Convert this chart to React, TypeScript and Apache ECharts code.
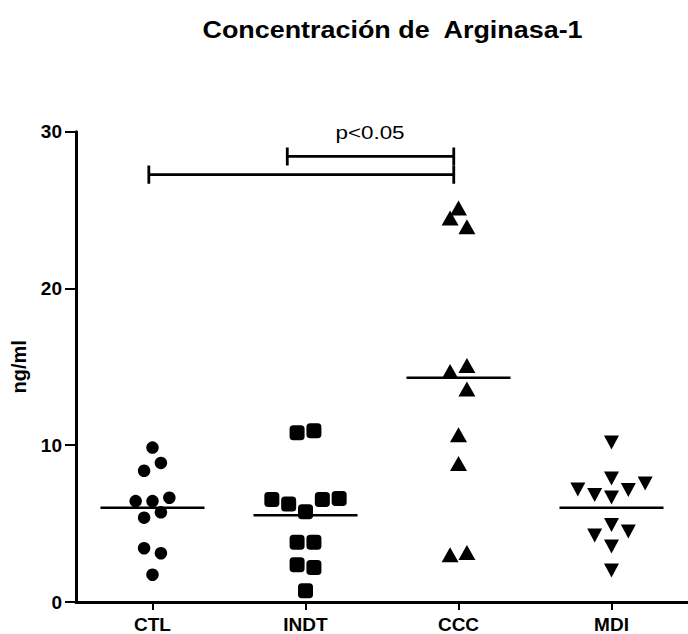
import React, { useEffect, useRef } from "react";
import * as echarts from "echarts";

const categories = ["CTL", "INDT", "CCC", "MDI"];
const yTicks = [0, 10, 20, 30];
const titleText = "Concentración de  Arginasa-1";
const yAxisName = "ng/ml";
const pLabel = "p<0.05";

const ctlValues = [9.85, 8.87, 8.37, 6.44, 6.44, 6.65, 5.72, 5.38, 3.43, 3.11, 1.74];
const ctlOffsets = [0, 0.055, -0.055, -0.11, 0, 0.11, 0.055, -0.055, -0.055, 0.055, 0];
const indtValues = [10.8, 10.93, 6.54, 6.25, 5.76, 6.54, 6.61, 3.81, 3.81, 2.37, 2.2, 0.72];
const indtOffsets = [-0.055, 0.055, -0.22, -0.11, 0, 0.11, 0.22, -0.055, 0.055, -0.055, 0.055, 0];
const cccValues = [25.14, 24.5, 23.93, 14.7, 15.08, 13.58, 10.67, 8.83, 3.01, 3.16];
const cccOffsets = [0, -0.055, 0.055, -0.055, 0.055, 0.055, 0, 0, -0.055, 0.055];
const mdiValues = [10.17, 7.88, 7.18, 6.82, 6.67, 7.14, 7.56, 4.91, 4.49, 4.24, 3.54, 2.01];
const mdiOffsets = [0, 0, -0.22, -0.11, 0, 0.11, 0.22, 0, 0.11, -0.11, 0, 0];
const meanValues = [6.02, 5.53, 14.31, 6.02];

// brackets: [xStart, xEnd, y]
const bracketLong = [-0.024, 1.969, 27.26];
const bracketShort = [0.881, 1.969, 28.42];
const bracketTickHalf = 0.58;

const FONT = "'Liberation Sans', Arial, Helvetica, sans-serif";

function bracketData(b: number[]) {
  const [x1, x2, y] = b;
  return [
    [x1, y + bracketTickHalf],
    [x1, y - bracketTickHalf],
    [x1, y],
    [x2, y],
    [x2, y + bracketTickHalf],
    [x2, y - bracketTickHalf],
  ];
}

export default function App() {
  const ref = useRef<HTMLDivElement>(null);
  useEffect(() => {
    if (!ref.current) return;
    const chart = echarts.init(ref.current, null, { renderer: "svg" });
    const groups = [
      { name: categories[0], values: ctlValues, offsets: ctlOffsets, symbol: "circle", size: 12.5, rotate: 0 },
      { name: categories[1], values: indtValues, offsets: indtOffsets, symbol: "roundRect", size: 15, rotate: 0 },
      { name: categories[2], values: cccValues, offsets: cccOffsets, symbol: "triangle", size: [17, 15], rotate: 0 },
      { name: categories[3], values: mdiValues, offsets: mdiOffsets, symbol: "triangle", size: [15, 14], rotate: 180 },
    ];
    const series: any[] = [];
    groups.forEach((g, gi) => {
      series.push({
        type: "scatter",
        name: g.name,
        xAxisIndex: 1,
        yAxisIndex: 0,
        symbol: g.symbol,
        symbolSize: g.size,
        symbolRotate: g.rotate,
        itemStyle: { color: "#000", opacity: 1 },
        data: g.values.map((v, i) => [gi + g.offsets[i], v]),
        z: 3,
      });
      series.push({
        type: "line",
        xAxisIndex: 1,
        yAxisIndex: 0,
        showSymbol: false,
        symbol: "none",
        lineStyle: { color: "#000", width: 2.5 },
        data: [
          [gi - 0.34, meanValues[gi]],
          [gi + 0.34, meanValues[gi]],
        ],
        z: 4,
      });
    });
    [bracketLong, bracketShort].forEach((b) => {
      series.push({
        type: "line",
        xAxisIndex: 1,
        yAxisIndex: 0,
        showSymbol: false,
        symbol: "none",
        lineStyle: { color: "#000", width: 2.8, cap: "butt", join: "miter" },
        data: bracketData(b),
        z: 4,
      });
    });

    chart.setOption({
      animation: false,
      backgroundColor: "#fff",
      grid: { left: 76, right: -2, top: 131.7, bottom: 30, containLabel: false },
      xAxis: [
        {
          type: "category",
          data: categories,
          boundaryGap: true,
          axisLine: { show: true, onZero: false, lineStyle: { color: "#000", width: 3 } },
          axisTick: { show: true, alignWithLabel: true, length: 8, lineStyle: { color: "#000", width: 2 } },
          axisLabel: { color: "#000", fontFamily: FONT, fontWeight: "bold", fontSize: 19, margin: 13 },
          splitLine: { show: false },
        },
        { type: "value", min: -0.5, max: 3.5, show: false },
      ],
      yAxis: {
        type: "value",
        min: yTicks[0],
        max: yTicks[yTicks.length - 1],
        interval: 10,
        name: yAxisName,
        nameLocation: "middle",
        nameGap: 47,
        nameTextStyle: { color: "#000", fontFamily: FONT, fontWeight: "bold", fontSize: 20 },
        axisLine: { show: true, onZero: false, lineStyle: { color: "#000", width: 3 } },
        axisTick: { show: true, length: 11, lineStyle: { color: "#000", width: 2 } },
        axisLabel: { color: "#000", fontFamily: FONT, fontWeight: "bold", fontSize: 19, margin: 14 },
        splitLine: { show: false },
      },
      graphic: [
        {
          type: "text",
          x: 392.5,
          y: 30,
          scaleX: 1.17,
          style: {
            text: titleText,
            fill: "#000",
            font: `bold 23px ${FONT}`,
            textAlign: "center",
            textVerticalAlign: "middle",
          },
        },
        {
          type: "text",
          x: 370,
          y: 132,
          scaleX: 1.18,
          style: {
            text: pLabel,
            fill: "#000",
            font: `normal 19px ${FONT}`,
            textAlign: "center",
            textVerticalAlign: "middle",
          },
        },
      ],
      series,
    });
    return () => chart.dispose();
  }, []);
  return (
    <div
      ref={ref}
      style={{ position: "fixed", left: 0, top: 0, width: 688, height: 634, background: "#fff" }}
    />
  );
}
